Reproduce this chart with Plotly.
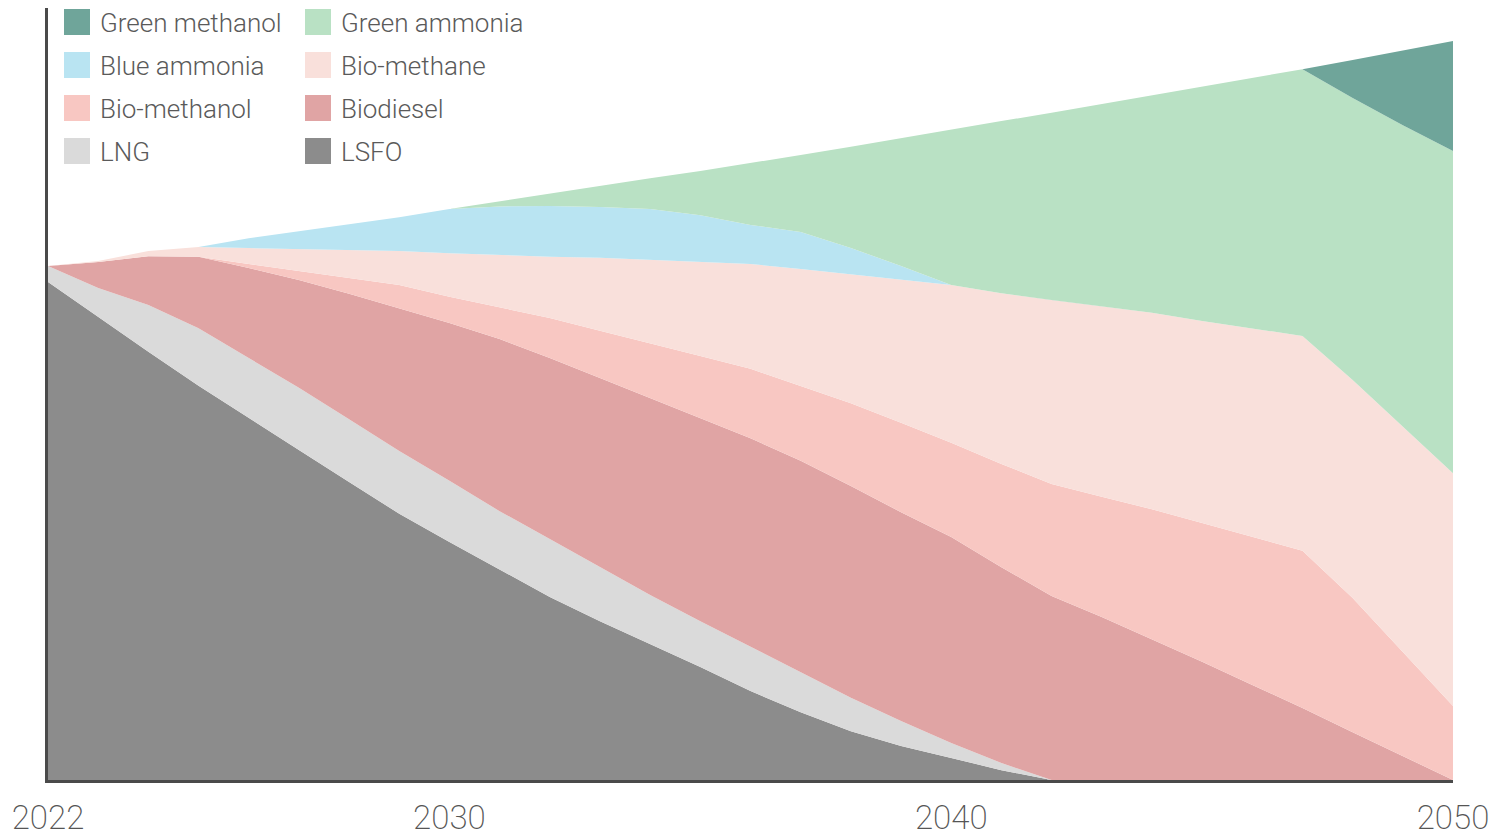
import plotly.graph_objects as go

years = list(range(2022, 2051))

lsfo = [96.9, 90.1, 83.3, 76.7, 70.4, 64.2, 58.0, 51.8, 46.3, 40.9, 35.6, 30.9, 26.5, 22.0,
        17.3, 13.2, 9.5, 6.6, 4.3, 1.9, 0, 0, 0, 0, 0, 0, 0, 0, 0]
lng = [3.1, 5.6, 9.1, 11.2, 11.7, 12.1, 12.2, 12.2, 11.9, 11.4, 11.3, 10.5, 9.5, 8.9,
       8.6, 7.8, 6.5, 4.9, 2.9, 1.4, 0, 0, 0, 0, 0, 0, 0, 0, 0]
biodiesel = [0, 5.1, 9.5, 13.9, 17.5, 21.0, 24.4, 27.8, 30.7, 33.5, 35.2, 36.8, 38.3, 39.5,
             40.6, 41.1, 41.2, 40.6, 40.1, 38.1, 35.8, 31.7, 27.4, 23.0, 18.5, 14.0, 9.3, 4.7, 0]
bio_methanol = [0, 0, 0, 0, 0.8, 1.7, 3.1, 4.5, 5.1, 6.2, 7.8, 9.2, 10.7, 12.1,
                13.5, 14.6, 16.1, 17.4, 18.3, 20.1, 21.8, 23.4, 25.3, 27.0, 28.8, 30.6, 26.1, 20.2, 14.4]
bio_methane = [0, 0.2, 1.0, 1.9, 3.1, 4.3, 5.4, 6.6, 8.5, 10.1, 11.9, 14.2, 16.2, 18.3,
               20.4, 22.7, 25.1, 27.8, 30.7, 33.2, 35.8, 37.1, 38.2, 39.3, 40.6, 41.8, 42.4, 43.8, 45.3]
blue_ammonia = [0, 0, 0, 0, 1.9, 3.5, 5.1, 6.6, 8.6, 9.5, 9.9, 9.9, 9.9, 9.1,
                7.6, 7.2, 5.1, 2.7, 0, 0, 0, 0, 0, 0, 0, 0, 0, 0, 0]
green_ammonia = [0, 0, 0, 0, 0, 0, 0, 0, 0, 1.0, 2.5, 4.1, 6.0, 8.6,
                 12.0, 15.0, 19.7, 24.9, 30.2, 33.5, 36.4, 39.3, 42.2, 45.5, 48.7, 51.9, 54.9, 58.7, 62.7]
green_methanol = [0, 0, 0, 0, 0, 0, 0, 0, 0, 0, 0, 0, 0, 0,
                  0, 0, 0, 0, 0, 0, 0, 0, 0, 0, 0, 0, 7.4, 14.6, 21.4]

tick_years = [2022, 2030, 2040, 2050]

# bottom-up stacking order
series = [
    ("LSFO", lsfo, "#8c8c8c"),
    ("LNG", lng, "#dadada"),
    ("Biodiesel", biodiesel, "#e0a4a4"),
    ("Bio-methanol", bio_methanol, "#f8c7c2"),
    ("Bio-methane", bio_methane, "#f9e0db"),
    ("Blue ammonia", blue_ammonia, "#b9e4f2"),
    ("Green ammonia", green_ammonia, "#b9e1c4"),
    ("Green methanol", green_methanol, "#6fa59a"),
]

fig = go.Figure()
for name, vals, col in series:
    fig.add_trace(go.Scatter(
        x=years, y=vals, name=name, stackgroup="one", mode="lines",
        line=dict(width=0, color=col), fillcolor=col, showlegend=False,
        hoverinfo="skip",
    ))

W, H = 1493, 838
ml, mr, mt, mb = 48, 40, 8, 58
pw, ph = W - ml - mr, H - mt - mb

def px(x):
    return (x - ml) / pw

def py(y):
    return (H - mb - y) / ph

# manual legend, two columns, row-major from the top of the stack
legend_order = ["Green methanol", "Green ammonia", "Blue ammonia", "Bio-methane",
                "Bio-methanol", "Biodiesel", "LNG", "LSFO"]
colors = {n: c for n, _, c in series}
col_x = [64, 305]
row_y = [22, 65, 108, 151]
sw = 26
for i, name in enumerate(legend_order):
    cx = col_x[i % 2]
    cy = row_y[i // 2]
    fig.add_shape(type="rect", xref="paper", yref="paper",
                  x0=px(cx), x1=px(cx + sw), y0=py(cy + sw / 2), y1=py(cy - sw / 2),
                  fillcolor=colors[name], line=dict(width=0), layer="above")
    fig.add_annotation(xref="paper", yref="paper", x=px(cx + 34), y=py(cy + 1),
                       text=name, showarrow=False, xanchor="left", yanchor="middle",
                       font=dict(family="Roboto", size=26, color="#5a5a5a", weight=300))

fig.update_layout(
    width=W, height=H,
    margin=dict(l=ml, r=mr, t=mt, b=mb, autoexpand=False),
    paper_bgcolor="white", plot_bgcolor="white",
    showlegend=False,
    xaxis=dict(range=[2022, 2050], tickvals=tick_years, ticktext=[str(t) for t in tick_years],
               showgrid=False, zeroline=False, showline=True, linecolor="#4a4a4a", linewidth=3,
               ticks="", ticklabelstandoff=6, automargin=False,
               tickfont=dict(family="Roboto", size=33, color="#555555", weight=200)),
    yaxis=dict(range=[0, 150.2], showticklabels=False, showgrid=False, zeroline=False,
               showline=True, linecolor="#4a4a4a", linewidth=3, ticks="", automargin=False),
)

fig.write_html("out.html")
